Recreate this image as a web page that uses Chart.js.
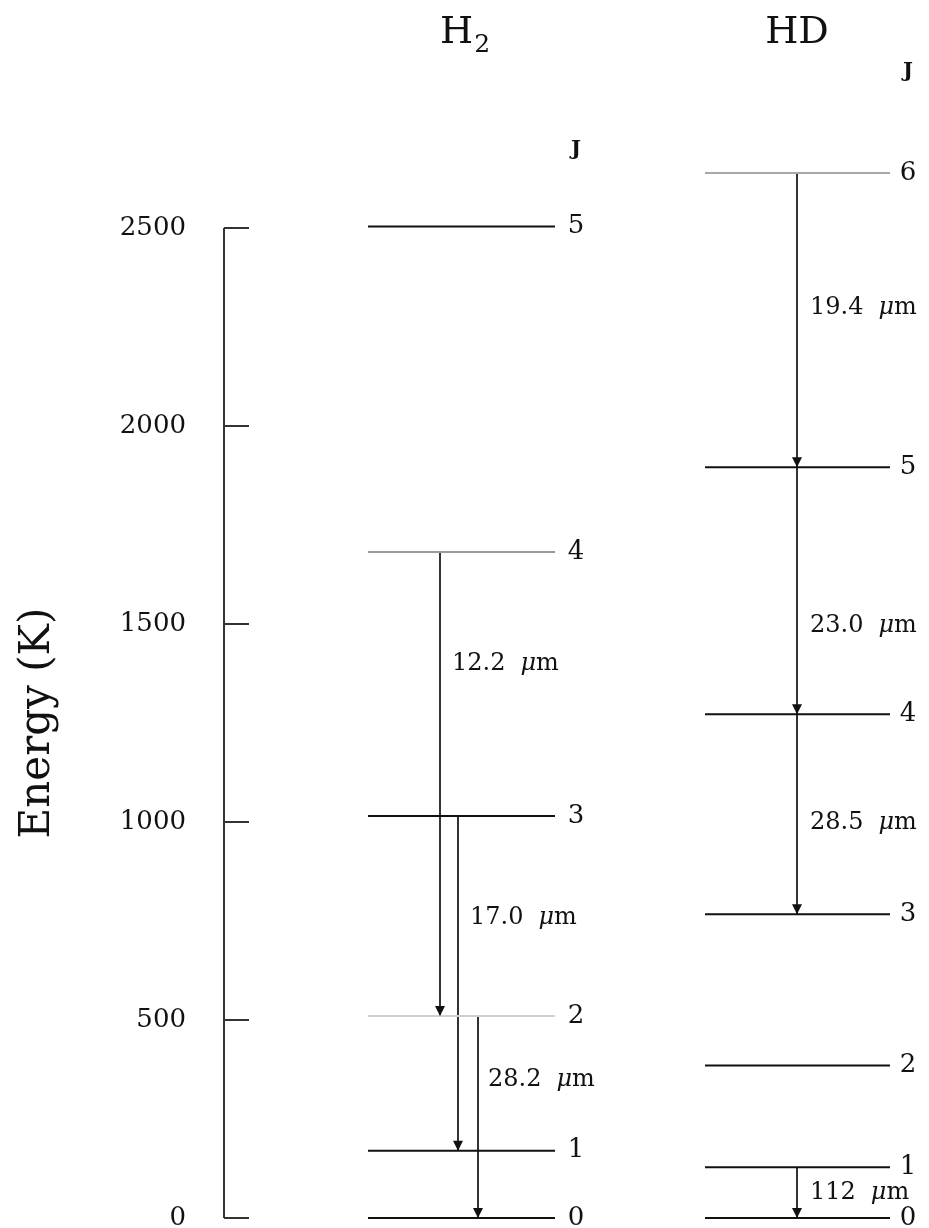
<!DOCTYPE html>
<html>
<head>
<meta charset="utf-8">
<script src="https://cdn.jsdelivr.net/npm/chart.js@4.4.0/dist/chart.umd.min.js"></script>
<style>
  html, body { margin: 0; padding: 0; background: #fff; }
  #wrap { width: 929px; height: 1228px; }
</style>
</head>
<body>
<div id="wrap"><canvas id="chart"></canvas></div>
<script>
// rotational levels, energy in K
const h2J = [0, 1, 2, 3, 4, 5];
const h2Energy = [0, 170, 510, 1015, 1682, 2504];
const hdJ = [0, 1, 2, 3, 4, 5, 6];
const hdEnergy = [0, 128, 385, 767, 1272, 1896, 2639];

// transitions as [upper J, lower J] with their wavelengths (micron)
const h2Trans = [[4, 2], [3, 1], [2, 0]];
const h2Wave = ['12.2', '17.0', '28.2'];
const hdTrans = [[6, 5], [5, 4], [4, 3], [1, 0]];
const hdWave = ['19.4', '23.0', '28.5', '112'];

const energyTicks = [0, 500, 1000, 1500, 2000, 2500];

// layout (x in px to the right of the energy axis, y in K)
const FONT = '"DejaVu Serif", "Liberation Serif", serif';
const INK = '#111';
const layout = {
  tickLen: 25,
  h2: { x0: 144, x1: 331, labelX: 352, arrowX: [216, 234, 254], waveX: [228, 246, 264], waveY: [1399, 758, 348], jY: 2697 },
  hd: { x0: 481, x1: 666, labelX: 684, arrowX: [573, 573, 573, 573], waveX: [586, 586, 586, 586], waveY: [2298, 1495, 997, 63], jY: 2894 },
  titleY: 2967,
  axisTitleX: -186
};
// a few level lines come out grey in the original
const h2Colors = { 2: '#cfcfcf', 4: '#9a9a9a' };
const hdColors = { 6: '#a8a8a8' };

function seg(x0, y0, x1, y1, color, extra) {
  return Object.assign({
    data: [{ x: x0, y: y0 }, { x: x1, y: y1 }],
    showLine: true, borderColor: color, borderWidth: 2,
    pointRadius: 0, clip: false
  }, extra || {});
}

const datasets = [];
// energy axis with ticks pointing inwards
datasets.push(seg(0, 0, 0, energyTicks[energyTicks.length - 1], '#333'));
energyTicks.forEach(t => datasets.push(seg(0, t, layout.tickLen, t, '#333')));

// levels
h2J.forEach((j, i) => datasets.push(seg(layout.h2.x0, h2Energy[i], layout.h2.x1, h2Energy[i], h2Colors[j] || INK)));
hdJ.forEach((j, i) => datasets.push(seg(layout.hd.x0, hdEnergy[i], layout.hd.x1, hdEnergy[i], hdColors[j] || INK)));

// transition arrows
h2Trans.forEach((t, i) => {
  const x = layout.h2.arrowX[i];
  datasets.push(seg(x, h2Energy[h2J.indexOf(t[0])], x, h2Energy[h2J.indexOf(t[1])], INK, { arrow: true, borderWidth: 1.7 }));
});
hdTrans.forEach((t, i) => {
  const x = layout.hd.arrowX[i];
  datasets.push(seg(x, hdEnergy[hdJ.indexOf(t[0])], x, hdEnergy[hdJ.indexOf(t[1])], INK, { arrow: true, borderWidth: 1.7 }));
});

const decorations = {
  id: 'decorations',
  afterDatasetsDraw(chart) {
    const ctx = chart.ctx;
    const xs = chart.scales.x, ys = chart.scales.y;
    const px = v => xs.getPixelForValue(v), py = v => ys.getPixelForValue(v);
    ctx.save();
    ctx.fillStyle = INK;

    // arrow heads
    chart.data.datasets.forEach((ds, i) => {
      if (!ds.arrow) return;
      const pts = chart.getDatasetMeta(i).data;
      const tip = pts[pts.length - 1];
      ctx.beginPath();
      ctx.moveTo(tip.x, tip.y);
      ctx.lineTo(tip.x - 5, tip.y - 10);
      ctx.lineTo(tip.x + 5, tip.y - 10);
      ctx.closePath();
      ctx.fill();
    });

    // J labels of levels
    ctx.font = '26px ' + FONT;
    ctx.textAlign = 'center';
    ctx.textBaseline = 'middle';
    h2J.forEach((j, i) => ctx.fillText(String(j), px(layout.h2.labelX), py(h2Energy[i])));
    hdJ.forEach((j, i) => ctx.fillText(String(j), px(layout.hd.labelX), py(hdEnergy[i])));

    ctx.font = 'bold 21px ' + FONT;
    ctx.fillText('J', px(layout.h2.labelX), py(layout.h2.jY));
    ctx.fillText('J', px(layout.hd.labelX), py(layout.hd.jY));

    // wavelengths
    function wave(txt, x, y) {
      ctx.textAlign = 'left';
      ctx.font = '24px ' + FONT;
      ctx.fillText(txt, x, y);
      let cx = x + ctx.measureText(txt).width + 15;
      ctx.font = 'italic 24px ' + FONT;
      ctx.fillText('\u03bc', cx, y);
      cx += ctx.measureText('\u03bc').width;
      ctx.font = '24px ' + FONT;
      ctx.fillText('m', cx, y);
    }
    h2Wave.forEach((w, i) => wave(w, px(layout.h2.waveX[i]), py(layout.h2.waveY[i])));
    hdWave.forEach((w, i) => wave(w, px(layout.hd.waveX[i]), py(layout.hd.waveY[i])));

    // column titles
    ctx.textBaseline = 'alphabetic';
    ctx.textAlign = 'left';
    ctx.font = '38px ' + FONT;
    const hx = px(layout.h2.arrowX[0]);
    ctx.fillText('H', hx, py(layout.titleY));
    const hw = ctx.measureText('H').width;
    ctx.font = '25px ' + FONT;
    ctx.fillText('2', hx + hw + 1, py(layout.titleY) + 9);
    ctx.font = '38px ' + FONT;
    ctx.textAlign = 'center';
    ctx.fillText('HD', px(layout.hd.arrowX[0]), py(layout.titleY));

    // axis title
    ctx.save();
    ctx.translate(px(layout.axisTitleX), (py(0) + py(energyTicks[energyTicks.length - 1])) / 2);
    ctx.rotate(-Math.PI / 2);
    ctx.textAlign = 'center';
    ctx.textBaseline = 'middle';
    ctx.font = '42px ' + FONT;
    ctx.fillText('Energy (K)', 0, 0);
    ctx.restore();

    ctx.restore();
  }
};

new Chart(document.getElementById('chart'), {
  type: 'scatter',
  data: { datasets: datasets },
  options: {
    responsive: true,
    maintainAspectRatio: false,
    animation: false,
    layout: { padding: { top: 30, bottom: 10, left: 0, right: 0 } },
    plugins: { legend: { display: false }, tooltip: { enabled: false } },
    scales: {
      x: { type: 'linear', display: false, min: 0, max: 705 },
      y: {
        type: 'linear', position: 'left', min: 0, max: 3000,
        afterBuildTicks: s => { s.ticks = energyTicks.map(v => ({ value: v })); },
        afterFit: s => { s.width = 224; s.paddingTop = 0; s.paddingBottom = 0; },
        grid: { display: false, drawTicks: false },
        border: { display: false },
        ticks: { padding: 38, color: INK, font: { family: FONT, size: 26 }, callback: v => String(v) }
      }
    }
  },
  plugins: [decorations]
});
</script>
</body>
</html>
